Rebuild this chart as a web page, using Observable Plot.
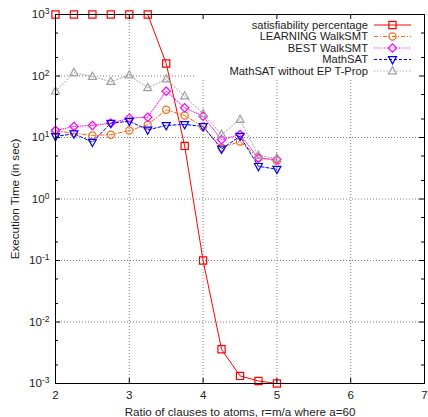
<!DOCTYPE html>
<html><head><meta charset="utf-8">
<script src="https://cdn.jsdelivr.net/npm/d3@7"></script>
<script src="https://cdn.jsdelivr.net/npm/@observablehq/plot@0.6"></script>
<style>body{margin:0;background:#fff}</style>
</head><body><div id="chart"></div>
<script>
const ratios = [2, 2.25, 2.5, 2.75, 3, 3.25, 3.5, 3.75, 4, 4.25, 4.5, 4.75, 5];
const satisfiability = [1000, 1000, 1000, 1000, 1000, 1000, 160, 7.3, 0.1, 0.0036, 0.00133, 0.0011, 0.001];
const learning = [12.7, 11.8, 10.8, 11.1, 13, 16.1, 28.2, 22.8, 15.1, 6.8, 8.6, 4.7, 4.2];
const best = [13, 15.1, 15.7, 17.1, 20.6, 21.4, 56.6, 30.4, 22.2, 9.2, 11.2, 4.6, 4.4];
const mathsat = [10.4, 11.5, 8.4, 17.1, 18.4, 13.3, 15.7, 16.3, 15.1, 6.5, 10.5, 3.4, 3.05];
const noEP = [56.6, 113, 98, 81, 103, 64, 89, 47, 24.3, 11.2, 19.6, 5.1, 4.6];
const seriesNames = ["satisfiability percentage", "LEARNING WalkSMT", "BEST WalkSMT", "MathSAT", "MathSAT without EP T-Prop"];
const xTicks = [2, 3, 4, 5, 6, 7];
const yTicks = [1e-3, 1e-2, 1e-1, 1e0, 1e1, 1e2, 1e3];
const yMinor = [2e-3, 5e-3, 2e-2, 5e-2, 2e-1, 5e-1, 2, 5, 20, 50, 200, 500];
const xGrid = [3, 4, 5, 6];
const yGrid = [1e-2, 1e-1, 1e0, 1e1, 1e2];

const rOf = size => Math.sqrt(size / Math.PI);
const symSquare = {draw(c, s) { const r = rOf(s); c.rect(-r, -r, 2 * r, 2 * r); }};
const symCircle = {draw(c, s) { const r = rOf(s); c.moveTo(r, 0); c.arc(0, 0, r, 0, 2 * Math.PI); }};
const symDiamond = {draw(c, s) { const r = rOf(s); c.moveTo(0, -r); c.lineTo(r, 0); c.lineTo(0, r); c.lineTo(-r, 0); c.closePath(); }};
const symTriUp = {draw(c, s) { const r = rOf(s); c.moveTo(0, -r * 1.1); c.lineTo(r, r * 0.7); c.lineTo(-r, r * 0.7); c.closePath(); }};
const symTriDown = {draw(c, s) { const r = rOf(s); c.moveTo(0, r * 1.1); c.lineTo(r, -r * 0.7); c.lineTo(-r, -r * 0.7); c.closePath(); }};

const styles = [
  {values: satisfiability, color: "#ff0000", dash: null, symbol: symSquare, r: 3.6},
  {values: learning, color: "#ff6a10", dash: "4,2,1,2", symbol: symCircle, r: 3.6},
  {values: best, color: "#ff00ff", dash: "1,1.5", symbol: symDiamond, r: 4.2},
  {values: mathsat, color: "#0000ff", dash: "3,2", symbol: symTriDown, r: 4},
  {values: noEP, color: "#a0a0a0", dash: "1.2,2", symbol: symTriUp, r: 4}
];
const series = styles.map((s, i) => ({...s, name: seriesNames[i], data: ratios.map((x, j) => ({x, y: s.values[j]}))}));

const W = 428, H = 417, mL = 55, mR = 4, mT = 14, mB = 34;
const pW = W - mL - mR, pH = H - mT - mB;
const font = "'Liberation Sans', Arial, Helvetica, sans-serif";
const fs = 11.6;

const marks = [
  Plot.ruleX(xGrid, {stroke: "#808080", strokeDasharray: "1,2"}),
  Plot.ruleY(yGrid, {stroke: "#808080", strokeDasharray: "1,2"})
];
for (const s of series) {
  marks.push(Plot.line(s.data, {x: "x", y: "y", stroke: s.color, strokeWidth: 1, strokeDasharray: s.dash}));
}
for (const s of series) {
  marks.push(Plot.dot(s.data, {x: "x", y: "y", stroke: s.color, fill: "none", strokeWidth: 1.2, symbol: s.symbol, r: s.r}));
}
marks.push(
  Plot.ruleX(xTicks, {stroke: "black", insetBottom: pH - 5}),
  Plot.ruleX(xTicks, {stroke: "black", insetTop: pH - 5}),
  Plot.ruleY(yTicks, {stroke: "black", insetRight: pW - 5}),
  Plot.ruleY(yTicks, {stroke: "black", insetLeft: pW - 5}),
  Plot.ruleY(yMinor, {stroke: "black", insetRight: pW - 3}),
  Plot.ruleY(yMinor, {stroke: "black", insetLeft: pW - 3}),
  Plot.frame({stroke: "black", strokeWidth: 1}),
  Plot.axisX(xTicks, {tickSize: 0, tickPadding: 7, fontSize: fs, tickFormat: d => String(d),
    label: "Ratio of clauses to atoms, r=m/a where a=60", labelAnchor: "center", labelArrow: "none", labelOffset: 32}),
  Plot.axisY(yTicks, {tickSize: 0, tickPadding: 6, fontSize: fs, tickFormat: d => "10^" + Math.round(Math.log10(d)),
    label: "Execution Time (in sec)", labelAnchor: "center", labelArrow: "none", labelOffset: 45})
);

const chart = Plot.plot({
  width: W, height: H,
  marginLeft: mL, marginRight: mR, marginTop: mT, marginBottom: mB,
  style: {fontFamily: font, fontSize: fs + "px", background: "#fff", color: "#222"},
  x: {domain: [2, 7]},
  y: {type: "log", domain: [1e-3, 1e3]},
  marks
});
document.getElementById("chart").appendChild(chart);

const svg = d3.select(chart);
// superscript tick labels
svg.selectAll('g[aria-label="y-axis tick label"] text').each(function() {
  const t = d3.select(this);
  const [b, e] = t.text().split("^");
  t.text("");
  t.append("tspan").text(b);
  t.append("tspan").attr("dy", "-0.45em").attr("font-size", "8.5px").text(e);
});

// opaque key box after gridlines
const rules = chart.querySelectorAll('g[aria-label="rule"]');
const box = document.createElementNS("http://www.w3.org/2000/svg", "rect");
box.setAttribute("x", 195); box.setAttribute("y", mT + 1);
box.setAttribute("width", W - mR - 196); box.setAttribute("height", 64);
box.setAttribute("fill", "#fff");
rules[1].parentNode.insertBefore(box, rules[1].nextSibling);

// key
const keyFs = 11.2;
const key = svg.append("g").attr("font-family", font).attr("font-size", keyFs);
series.forEach((s, i) => {
  const y = 25 + i * 11.5;
  key.append("text").attr("x", 368).attr("y", y).attr("dy", "0.35em").attr("text-anchor", "end").attr("fill", "#222").text(s.name);
  key.append("line").attr("x1", 374).attr("x2", 411).attr("y1", y).attr("y2", y)
    .attr("stroke", s.color).attr("stroke-dasharray", s.dash);
  key.append("path").attr("transform", `translate(392.5,${y})`)
    .attr("d", d3.symbol(s.symbol, Math.PI * s.r * s.r)()).attr("fill", "none").attr("stroke", s.color).attr("stroke-width", 1.2);
});
</script></body></html>
